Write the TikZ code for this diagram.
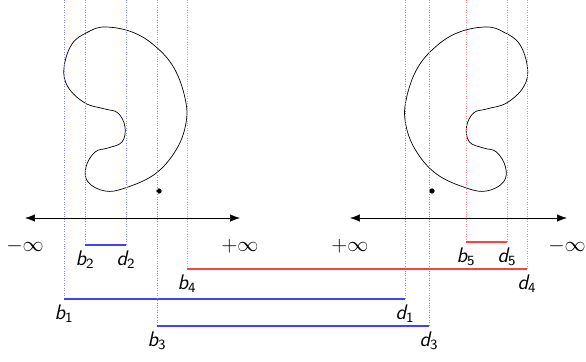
\documentclass[tikz,border=0pt]{standalone}
\usepackage{tikz}
\usetikzlibrary{arrows.meta, positioning}

\newcommand\lbl[2]{\textsf{\itshape #1\textsubscript{\upshape #2}}}

\begin{document}
\begin{tikzpicture}[
  x=0.02cm, y=-0.02cm, font=\large,
  guide/.style={densely dotted, #1!45},
  bar/.style={line width=0.6pt, #1!75},
  tag/.style={below=2pt, inner sep=1pt},
  inf/.style={below=11pt, inner sep=1pt},
  dot/.style={circle, fill, inner sep=0pt, minimum size=3pt},
  axis/.style={{Latex[length=2mm]}-{Latex[length=2mm]}},
  pics/kidney/.style={code={
    \draw plot[smooth cycle, tension=0.65] coordinates {
      (105,27) (132,32) (155,46) (174,68) (185,98) (186,123) (176,150)
      (155,174) (125,188) (105,191) (88,182) (86,167) (95,152) (108,148)
      (122,142) (125,127) (118,113) (105,109) (85,103) (68,87) (64,68)
      (72,44) (88,32)};
  }}
]
\useasboundingbox (0,0) rectangle (586,362);
\coordinate (top) at (0,0);

% the two shapes and their points
\pic at (0,0) {kidney};
\pic[xscale=-1] at (591.5,0) {kidney};
\node[dot] (p1) at (159,191) {};
\node[dot] (p2) at (432,191) {};

% the two lines
\coordinate (la) at (25,218);
\coordinate (ra) at (240,218);
\coordinate (lb) at (350,218);
\coordinate (rb) at (567,218);
\draw[axis] (la) -- (ra);
\draw[axis] (lb) -- (rb);
\node[inf] (minf1) at (la) {$-\infty$};
\node[inf] (pinf1) at (ra) {$+\infty$};
\node[inf] (pinf2) at (lb) {$+\infty$};
\node[inf] (minf2) at (rb) {$-\infty$};

% bars
\coordinate (b1) at (64,299);  \coordinate (d1) at (405,299);
\coordinate (b2) at (85,245);  \coordinate (d2) at (126,245);
\coordinate (b3) at (157,326); \coordinate (d3) at (429,326);
\coordinate (b4) at (187,269); \coordinate (d4) at (527,269);
\coordinate (b5) at (466,242); \coordinate (d5) at (507,242);

\foreach \i/\c in {1/blue, 2/blue, 3/blue, 4/red, 5/red} {
  \draw[guide=\c] (b\i |- top) -- (b\i);
  \draw[guide=\c] (d\i |- top) -- (d\i);
  \draw[bar=\c] (b\i) -- (d\i);
  \node[tag] (lb\i) at (b\i) {\lbl{b}{\i}};
  \node[tag] (ld\i) at (d\i) {\lbl{d}{\i}};
}

\end{tikzpicture}
\end{document}
